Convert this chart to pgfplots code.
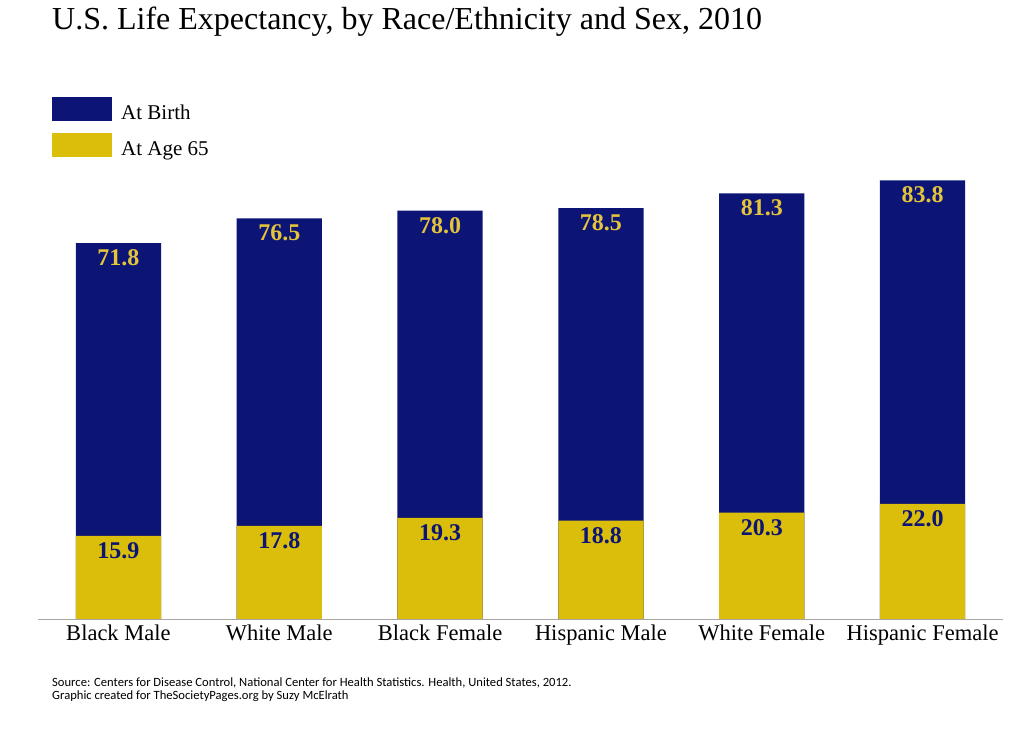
\documentclass[border=0pt]{standalone}
\usepackage{fontspec}
\setmainfont{Liberation Serif}
\newfontfamily\srcfont{Carlito}
\usepackage{pgfplots}
\pgfplotsset{compat=1.18}
\definecolor{navy}{HTML}{0C1475}
\definecolor{gold}{HTML}{DBBE0A}
\definecolor{goldtext}{HTML}{E3C43A}
\begin{document}
\begin{tikzpicture}
\path[use as bounding box] (0,0) rectangle (1024pt,741pt);
\begin{axis}[
  at={(38pt,122pt)}, anchor=south west,
  scale only axis, width=965pt, height=445pt,
  xmin=-0.5, xmax=5.5, ymin=0, ymax=85,
  axis y line=none, axis x line*=bottom,
  x axis line style={draw=gray!70, -},
  xtick={0,...,5},
  xticklabels={Black Male, White Male, Black Female, Hispanic Male, White Female, Hispanic Female},
  major tick length=0pt,
  xticklabel style={font=\fontsize{22.5}{26}\selectfont, yshift=-2pt},
  bar width=0.53,
  /pgf/number format/.cd, fixed, fixed zerofill, precision=1, assume math mode=true,
  /pgfplots/.cd,
  legend image code/.code={\fill[#1] (0pt,-8pt) rectangle (60pt,16pt);},
  legend style={draw=none, fill=none, anchor=north west,
    at={(axis description cs:0.0145,1.173)}, inner sep=0pt,
    row sep=12pt, column sep=9pt,
    nodes={inner sep=0pt, font=\fontsize{21}{25}\selectfont}},
  legend cell align=left,
]
\addplot[ybar, bar shift=0pt, fill=navy, draw=none,
  nodes near coords,
  every node near coord/.append style={anchor=north, yshift=-3pt,
    text=goldtext, font=\bfseries\fontsize{24}{28}\selectfont}]
  coordinates {(0,71.8) (1,76.5) (2,78.0) (3,78.5) (4,81.3) (5,83.8)};
\addplot[ybar, bar shift=0pt, fill=gold, draw=none,
  nodes near coords,
  every node near coord/.append style={anchor=north, yshift=-3pt,
    text=navy, font=\bfseries\fontsize{24}{28}\selectfont}]
  coordinates {(0,15.9) (1,17.8) (2,19.3) (3,18.8) (4,20.3) (5,22.0)};
\legend{At Birth, At Age 65}
\end{axis}
\node[anchor=base west, inner sep=0pt, font=\fontsize{32}{37}\selectfont] at (52pt,711pt)
  {U.S. Life Expectancy, by Race/Ethnicity and Sex, 2010};
\node[anchor=base west, inner sep=0pt, font=\srcfont\fontsize{12.6}{15}\selectfont] at (52pt,55pt)
  {Source: Centers for Disease Control, National Center for Health Statistics. Health, United States, 2012.};
\node[anchor=base west, inner sep=0pt, font=\srcfont\fontsize{12.6}{15}\selectfont] at (52pt,42pt)
  {Graphic created for TheSocietyPages.org by Suzy McElrath};
\end{tikzpicture}
\end{document}
